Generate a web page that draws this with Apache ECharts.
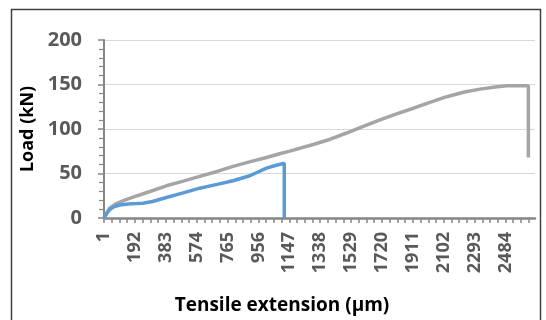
<!DOCTYPE html>
<html>
<head>
<meta charset="utf-8">
<script src="https://cdn.jsdelivr.net/npm/echarts@6/dist/echarts.min.js"></script>
<style>html,body{margin:0;padding:0;background:#fff;}#c{width:546px;height:320px;}</style>
</head>
<body>
<div id="c"></div>
<script>
// Category axis: extension readings 1..N (Excel category axis), labelled every 191
const firstCategory = 1;
const categoryCount = 2667;
const labelStep = 191;
const yTicks = [0, 50, 100, 150, 200];

// [category index, load kN]
const grayIdx = [0, 35, 70, 120, 180, 280, 386, 490, 592, 700, 798, 900, 1005, 1086, 1149, 1294, 1400, 1500, 1600, 1707, 1810, 1913, 2020, 2120, 2230, 2326, 2420, 2491, 2560, 2625, 2625];
const grayVal = [0, 11, 15.5, 19.5, 23.5, 29.5, 36.2, 41.5, 46.8, 52.3, 58, 63, 68, 72.2, 75.2, 82.6, 88.5, 95.5, 102.8, 110.3, 117, 123.3, 130.2, 136.3, 141.5, 144.8, 147.2, 148.5, 148.6, 148.6, 68];
const blueIdx = [0, 15, 35, 60, 97, 150, 200, 240, 300, 386, 490, 592, 700, 798, 902, 1005, 1060, 1115, 1115];
const blueVal = [0, 5, 9.5, 12.5, 14.6, 15.8, 16.2, 16.6, 18.6, 23, 28.2, 33.5, 37.8, 41.9, 47.5, 56, 59, 61.5, 0];

const categories = [];
for (let i = 0; i < categoryCount; i++) categories.push(String(firstCategory + i));
const pairs = (xs, ys) => xs.map((x, i) => [x, ys[i]]);
const font = 'Open Sans';

const chart = echarts.init(document.getElementById('c'), null, {renderer: 'canvas'});
chart.setOption({
  animation: false,
  backgroundColor: '#ffffff',
  grid: {left: 104, right: 11, top: 40, bottom: 101, containLabel: false},
  graphic: [{
    type: 'rect', left: 9, top: 7,
    shape: {width: 529, height: 330},
    style: {fill: 'none', stroke: '#404040', lineWidth: 1.5},
    silent: true
  }],
  xAxis: {
    type: 'category',
    data: categories,
    boundaryGap: false,
    name: 'Tensile extension (µm)',
    nameLocation: 'middle',
    nameGap: 78,
    nameTextStyle: {color: '#000', fontWeight: 'bold', fontSize: 19, fontFamily: font, padding: [0, 75, 0, 0]},
    axisLine: {lineStyle: {color: '#868686', width: 2.5}},
    axisTick: {
      show: true, length: 5, alignWithLabel: true,
      interval: (idx) => [0, 48, 96, 143].includes(idx % labelStep),
      lineStyle: {color: '#868686', width: 1.5}
    },
    axisLabel: {
      interval: labelStep - 1, rotate: 90, margin: 14,
      color: '#595959', fontWeight: 'bold', fontSize: 18, fontFamily: font
    },
    splitLine: {show: false}
  },
  yAxis: {
    type: 'value',
    min: yTicks[0], max: yTicks[yTicks.length - 1], interval: 50,
    name: 'Load (kN)',
    nameLocation: 'middle',
    nameRotate: 90,
    nameGap: 64,
    nameTextStyle: {color: '#000', fontWeight: 'bold', fontSize: 18, fontFamily: font},
    axisLine: {show: true, lineStyle: {color: '#868686', width: 2}},
    axisTick: {show: true, length: 6, lineStyle: {color: '#868686', width: 1.5}},
    minorTick: {show: true, splitNumber: 5, length: 5, lineStyle: {color: '#868686', width: 1.2}},
    axisLabel: {margin: 22, color: '#595959', fontWeight: 'bold', fontSize: 20, fontFamily: font},
    splitLine: {show: true, lineStyle: {color: '#d9d9d9', width: 1}}
  },
  series: [
    {type: 'line', name: 'gray', data: pairs(grayIdx, grayVal), showSymbol: false, smooth: false,
     lineStyle: {color: '#a5a5a5', width: 3.5}, z: 2},
    {type: 'line', name: 'blue', data: pairs(blueIdx, blueVal), showSymbol: false, smooth: false,
     lineStyle: {color: '#5b9bd5', width: 3.5}, z: 3}
  ]
});
</script>
</body>
</html>
